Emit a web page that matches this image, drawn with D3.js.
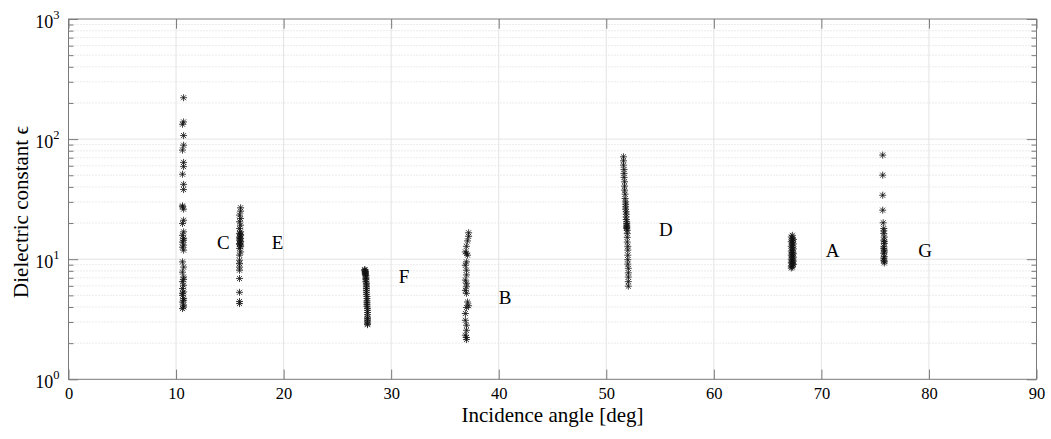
<!DOCTYPE html>
<html>
<head>
<meta charset="utf-8">
<script src="https://cdn.jsdelivr.net/npm/d3@7"></script>
<style>
  body { margin: 0; background: #fff; }
  svg text { font-family: "Liberation Serif", "Times New Roman", serif; fill: #000; }
</style>
</head>
<body>
<svg id="chart" width="1051" height="439"></svg>
<script>
// Dielectric constant estimates per site vs. incidence angle

// Axis ticks
const xTicks = [0, 10, 20, 30, 40, 50, 60, 70, 80, 90];
const yTicks = [1, 10, 100, 1000];
const yExponents = ["0", "1", "2", "3"];

// Site C
const angC = [10.7, 10.7, 10.6, 10.7, 10.7, 10.6, 10.7, 10.7, 10.6, 10.7, 10.7, 10.6, 10.7, 10.7, 10.6, 10.7, 10.6, 10.7, 10.6, 10.7, 10.7,
              10.6, 10.7, 10.6, 10.7, 10.6, 10.7, 10.6, 10.7, 10.6, 10.7, 10.6, 10.7, 10.6, 10.7, 10.6, 10.7, 10.6, 10.7, 10.7, 10.6];
const epsC = [221, 139, 133, 107, 89, 81, 64, 59, 51, 42, 38, 27.3, 26.1, 21.1, 19.8, 16.9, 15.8, 14.9, 13.9, 13.1, 11.9,
              9.5, 8.6, 7.8, 7.1, 6.5, 6.07, 5.7, 5.34, 5.0, 4.7, 4.4, 4.14, 3.88, 14.4, 12.6, 6.8, 5.2, 4.55, 4.0, 27.8];

// Site E
const angE = [16.0, 16.0, 15.9, 16.0, 15.9, 16.0, 15.9, 16.0, 15.9, 16.0, 15.9, 16.0, 15.9, 16.0, 15.9, 16.0, 15.9, 16.0, 15.9,
              15.9, 15.9, 15.9, 15.9, 15.9, 15.9, 15.9, 16.0, 15.9, 16.0, 15.9, 16.0, 15.9];
const epsE = [26.8, 25.1, 23.3, 21.8, 20.5, 19.2, 18.0, 16.9, 16.4, 15.8, 15.3, 14.9, 14.4, 13.9, 13.5, 13.1, 12.3, 11.5, 10.8,
              9.8, 9.2, 8.6, 8.1, 6.9, 5.3, 4.27, 16.1, 15.0, 14.1, 13.3, 12.8, 4.45];

// Site F
const angF = [27.55, 27.55, 27.55, 27.6, 27.6, 27.6, 27.6, 27.6, 27.65, 27.65, 27.65, 27.65, 27.65, 27.7, 27.7, 27.7, 27.7, 27.7,
              27.7, 27.7, 27.75, 27.75, 27.75, 27.75, 27.75, 27.75, 27.8, 27.8, 27.8, 27.8, 27.8, 27.8, 27.8, 27.8, 27.8, 27.8];
const epsF = [8.2, 8.1, 8.0, 7.9, 7.8, 7.7, 7.6, 7.45, 7.3, 7.1, 6.9, 6.75, 6.5, 6.3, 6.1, 5.9, 5.7, 5.5, 5.3,
              5.1, 4.9, 4.7, 4.5, 4.35, 4.2, 4.05, 3.9, 3.75, 3.6, 3.45, 3.3, 3.2, 3.1, 3.0, 2.9, 2.85];

// Site B
const angB = [37.2, 37.2, 37.1, 37.0, 36.9, 37.0, 37.1, 37.0, 36.9, 37.0, 37.0, 36.9, 37.0, 37.0, 36.9, 37.0, 37.1, 37.2, 37.0,
              36.9, 36.9, 37.0, 37.0, 36.9, 37.0, 37.0];
const epsB = [16.6, 15.5, 14.2, 12.8, 11.5, 11.2, 10.8, 9.5, 8.9, 8.1, 7.4, 6.7, 6.3, 5.9, 5.5, 5.2, 4.4, 4.1, 3.96,
              3.53, 3.1, 2.82, 2.56, 2.33, 2.23, 2.14];

// Site D
const angD = [51.6, 51.6, 51.6, 51.65, 51.65, 51.65, 51.7, 51.7, 51.7, 51.75, 51.75, 51.8, 51.8, 51.8, 51.8, 51.85, 51.85, 51.85,
              51.85, 51.9, 51.9, 51.9, 51.9, 51.9, 51.9, 51.95, 51.95, 51.95, 51.95, 52.0, 52.0, 52.0, 52.0, 52.0, 52.05,
              52.05, 52.05, 52.05, 52.05];
const epsD = [71.2, 65.9, 60.7, 55.9, 51.8, 48.0, 44.1, 40.6, 37.6, 34.8, 32.0, 30.0, 28.7, 27.3, 26.1, 24.8, 23.7, 22.5,
              21.4, 20.5, 19.8, 19.2, 18.8, 18.4, 18.0, 17.4, 16.4, 15.2, 13.9, 12.8, 11.9, 10.8, 9.9, 9.1, 8.4,
              7.7, 7.1, 6.5, 5.96];

// Site A
const angA = [67.3, 67.2, 67.3, 67.4, 67.3, 67.2, 67.3, 67.4, 67.3, 67.2, 67.3, 67.4, 67.3, 67.2, 67.3, 67.4, 67.3, 67.2,
              67.3, 67.4, 67.3, 67.2, 67.3, 67.4, 67.3, 67.2, 67.3, 67.4, 67.3, 67.2, 67.3, 67.2];
const epsA = [15.8, 15.3, 14.9, 14.6, 14.3, 14.0, 13.7, 13.4, 13.1, 12.8, 12.5, 12.2, 11.9, 11.7, 11.4, 11.2, 11.0, 10.8,
              10.6, 10.4, 10.2, 10.0, 9.8, 9.65, 9.5, 9.35, 9.2, 9.05, 8.9, 8.75, 8.6, 8.45];

// Site G
const angG = [75.7, 75.7, 75.7, 75.7, 75.75, 75.8, 75.8, 75.85, 75.8, 75.85, 75.8, 75.85, 75.8, 75.85, 75.8, 75.85,
              75.8, 75.85, 75.8, 75.85, 75.8, 75.85];
const epsG = [73.6, 50.1, 34.1, 25.6, 20.1, 18.0, 16.4, 15.3, 14.4, 13.5, 12.7, 11.9, 11.2, 10.5, 9.8, 9.3,
              17.2, 14.0, 12.3, 11.5, 10.2, 9.6];

// Site labels
const siteNames = ["C", "E", "F", "B", "D", "A", "G"];
const siteLabelAngle = [13.8, 18.9, 30.7, 40.0, 54.9, 70.4, 79.0];
const siteLabelEps = [13.9, 13.9, 7.2, 4.85, 17.7, 11.95, 11.95];

const sites = [
  [angC, epsC], [angE, epsE], [angF, epsF], [angB, epsB],
  [angD, epsD], [angA, epsA], [angG, epsG]
];

const plotLeft = 68.5, plotRight = 1036.5, plotTop = 19, plotBottom = 379.3;
const serif = "Liberation Serif";

const svg = d3.select("#chart");
const x = d3.scaleLinear().domain([0, 90]).range([plotLeft, plotRight]);
const y = d3.scaleLog().domain([1, 1000]).range([plotBottom, plotTop]);

const axisColor = "#7a7a7a";
const majorLen = 9.7, minorLen = 5;

// Minor log values for y grid/ticks
const yMinor = [];
for (let d = 1; d < 1000; d *= 10) for (let m = 2; m <= 9; m++) yMinor.push(d * m);

// Grid
const grid = svg.append("g");
grid.selectAll(".ymin").data(yMinor).join("line")
  .attr("x1", plotLeft).attr("x2", plotRight)
  .attr("y1", d => y(d)).attr("y2", d => y(d))
  .attr("stroke", "#cfcfcf").attr("stroke-width", 0.8).attr("stroke-dasharray", "1,2");
grid.selectAll(".ymaj").data(yTicks.slice(1, -1)).join("line")
  .attr("x1", plotLeft).attr("x2", plotRight)
  .attr("y1", d => y(d)).attr("y2", d => y(d))
  .attr("stroke", "#e3e3e3").attr("stroke-width", 1);
grid.selectAll(".xmaj").data(xTicks.slice(1, -1)).join("line")
  .attr("y1", plotTop).attr("y2", plotBottom)
  .attr("x1", d => x(d)).attr("x2", d => x(d))
  .attr("stroke", "#e3e3e3").attr("stroke-width", 1);

// Axes (ticks point inward)
function styleAxis(g) {
  g.attr("font-family", serif);
  g.select(".domain").remove();
  g.selectAll(".tick line").attr("stroke", axisColor);
}
const fs = 16.5;

svg.append("g").attr("transform", `translate(0,${plotBottom})`)
  .call(d3.axisBottom(x).tickValues(xTicks).tickSizeInner(-majorLen).tickSizeOuter(0).tickPadding(8))
  .call(styleAxis)
  .call(g => g.selectAll("text").attr("font-family", serif).attr("font-size", fs).attr("fill", "#000"));
svg.append("g").attr("transform", `translate(0,${plotTop})`)
  .call(d3.axisTop(x).tickValues(xTicks).tickSizeInner(-majorLen).tickSizeOuter(0).tickFormat(""))
  .call(styleAxis);

const yLeft = svg.append("g").attr("transform", `translate(${plotLeft},0)`)
  .call(d3.axisLeft(y).tickValues(yTicks).tickSizeInner(-majorLen).tickSizeOuter(0).tickPadding(9).tickFormat(() => ""))
  .call(styleAxis);
yLeft.selectAll(".tick text").each(function(d, i) {
  const t = d3.select(this).attr("font-family", serif).attr("font-size", 18).attr("fill", "#000").attr("dy", "0.45em");
  t.append("tspan").text("10");
  t.append("tspan").attr("font-size", 12.5).attr("dy", "-0.7em").text(yExponents[i]);
});
svg.append("g").attr("transform", `translate(${plotLeft},0)`)
  .call(d3.axisLeft(y).tickValues(yMinor).tickSizeInner(-minorLen).tickSizeOuter(0).tickFormat(""))
  .call(styleAxis);
svg.append("g").attr("transform", `translate(${plotRight},0)`)
  .call(d3.axisRight(y).tickValues(yTicks).tickSizeInner(-majorLen).tickSizeOuter(0).tickFormat(""))
  .call(styleAxis);
svg.append("g").attr("transform", `translate(${plotRight},0)`)
  .call(d3.axisRight(y).tickValues(yMinor).tickSizeInner(-minorLen).tickSizeOuter(0).tickFormat(""))
  .call(styleAxis);

// Box
svg.append("rect").attr("x", plotLeft).attr("y", plotTop)
  .attr("width", plotRight - plotLeft).attr("height", plotBottom - plotTop)
  .attr("fill", "none").attr("stroke", axisColor).attr("stroke-width", 1);

// Asterisk markers
const r = 3.5, rd = r * 0.72;
const starPath = `M${-r},0H${r}M0,${-r}V${r}M${-rd},${-rd}L${rd},${rd}M${-rd},${rd}L${rd},${-rd}`;
const pts = [];
sites.forEach(([a, e]) => a.forEach((v, i) => pts.push([v, e[i]])));
svg.append("g").selectAll("path").data(pts).join("path")
  .attr("transform", d => `translate(${x(d[0])},${y(d[1])})`)
  .attr("d", starPath)
  .attr("fill", "none").attr("stroke", "#111").attr("stroke-width", 0.8);

// Site letters
svg.append("g").selectAll("text").data(siteNames).join("text")
  .attr("x", (d, i) => x(siteLabelAngle[i]))
  .attr("y", (d, i) => y(siteLabelEps[i]))
  .attr("dy", "0.35em")
  .attr("font-family", serif)
  .attr("font-size", 19)
  .text(d => d);

// Axis titles
svg.append("text")
  .attr("x", (plotLeft + plotRight) / 2).attr("y", 422)
  .attr("text-anchor", "middle").attr("font-family", serif).attr("font-size", 21)
  .text("Incidence angle [deg]");
svg.append("text")
  .attr("transform", `translate(28,212) rotate(-90)`)
  .attr("text-anchor", "middle").attr("font-family", serif).attr("font-size", 21)
  .text("Dielectric constant ϵ");
</script>
</body>
</html>
